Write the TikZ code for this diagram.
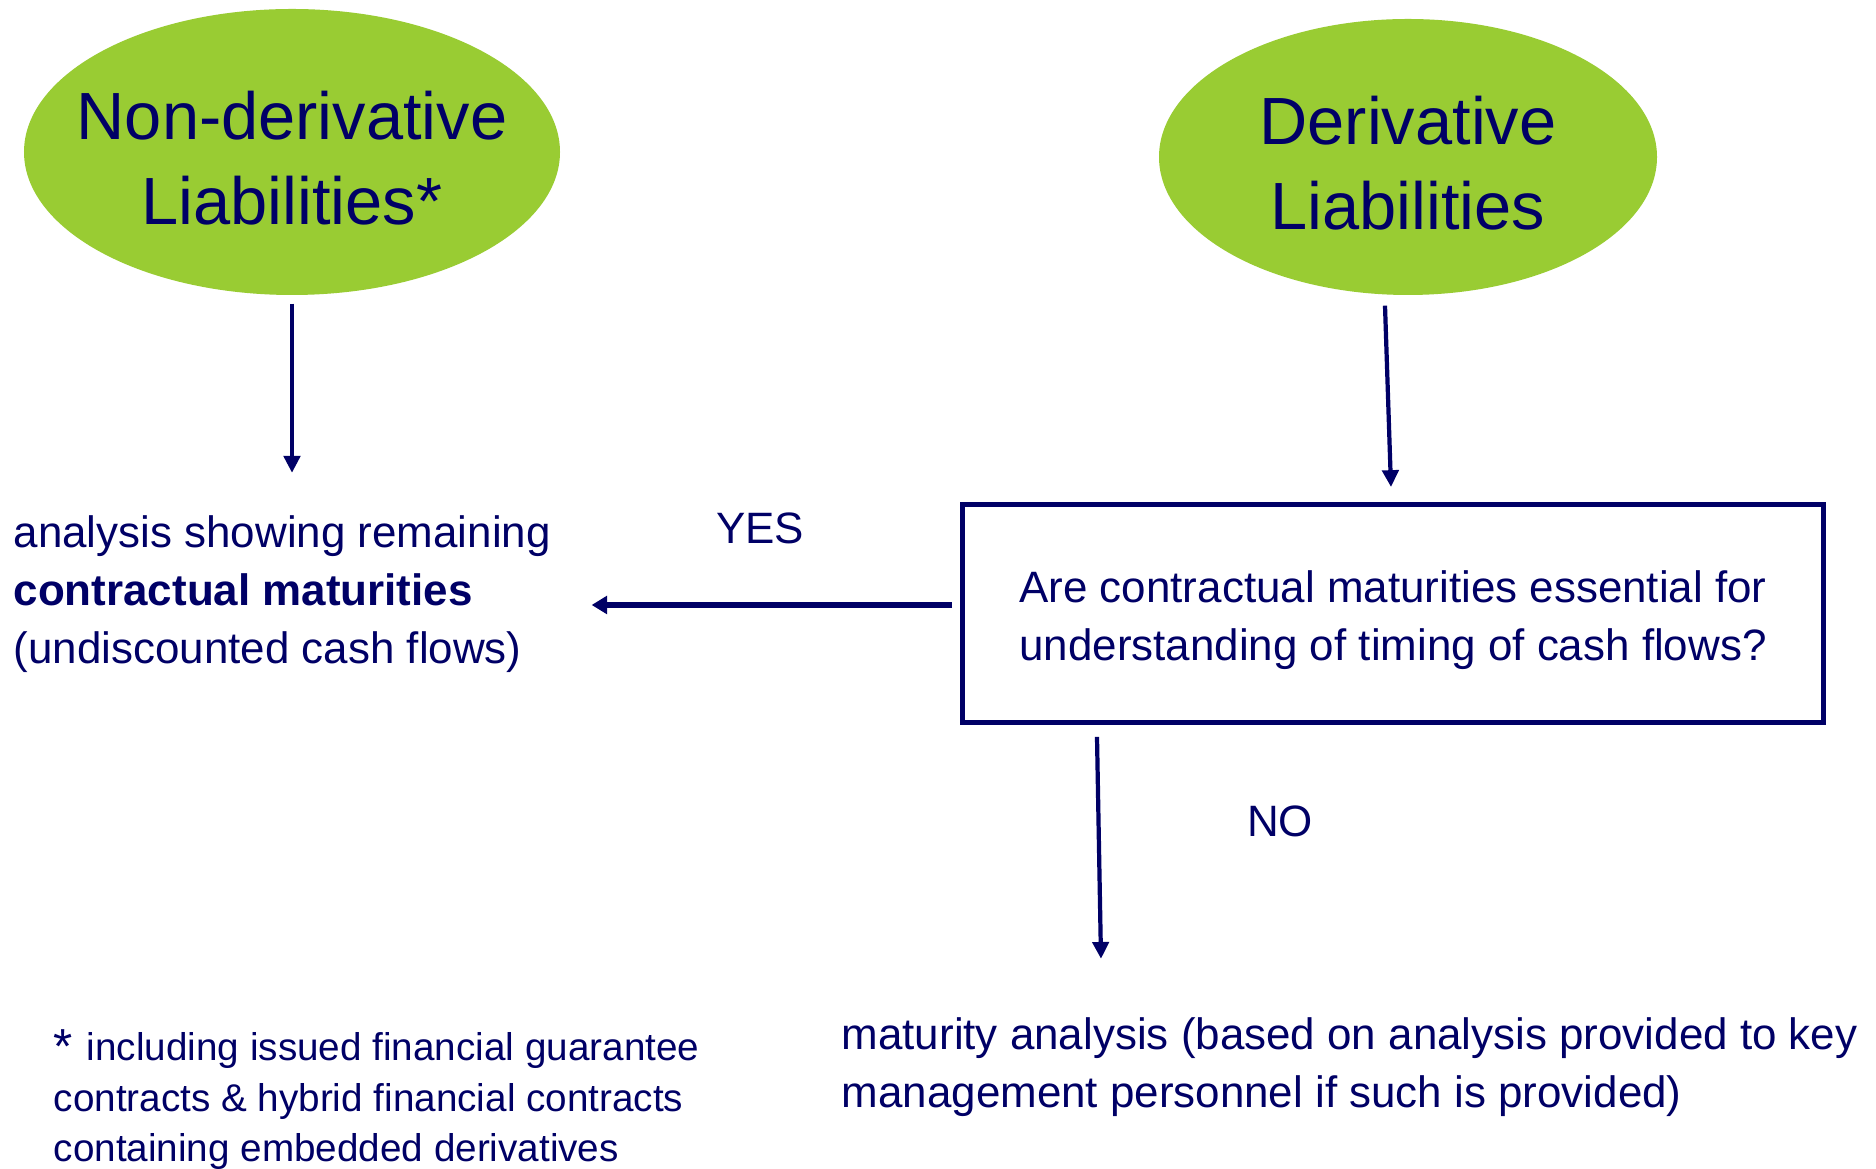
\documentclass[tikz,border=0pt]{standalone}
\usepackage{fontspec}
\setmainfont{Liberation Sans}
\usetikzlibrary{shapes.geometric,arrows.meta,positioning}
\definecolor{Ink}{RGB}{0,0,102}
\definecolor{Lime}{RGB}{153,204,51}
\tikzset{
  lblob/.style={ellipse,fill=Lime,draw=none,inner sep=0pt},
  lhead/.style={text=Ink,align=center,font=\fontsize{19}{24}\selectfont,inner sep=0pt},
  lquest/.style={rectangle,draw=Ink,line width=1.4pt,
                 minimum width=8.61cm,minimum height=2.18cm},
  ltext/.style={text=Ink,align=left,font=\fontsize{12.5}{16.5}\selectfont,inner sep=0pt},
  lnote/.style={ltext,font=\fontsize{11}{14.4}\selectfont},
  ledge/.style={-{Triangle[length=4.8pt,width=4.6pt]},Ink,line width=1.2pt},
  lyes/.style={ledge,line width=1.8pt,-{Triangle[length=4.4pt,width=5pt]}},
}

\begin{document}
\begin{tikzpicture}
  \useasboundingbox (0,0) rectangle (18.76,11.69);
  \fill[white] (0,0) rectangle (18.76,11.69);

  % the two kinds of liabilities
  \node[lblob,minimum width=5.36cm,minimum height=2.86cm] (nonderiv) at (2.92,10.17) {};
  \node[lhead] (nonderivtxt) at ([yshift=-0.06cm]nonderiv.center) {Non-derivative\\Liabilities*};
  \node[lblob,minimum width=4.98cm,minimum height=2.76cm] (deriv) at (14.08,10.12) {};
  \node[lhead] (derivtxt) at ([yshift=-0.06cm]deriv.center) {Derivative\\Liabilities};

  % question and outcomes
  \node[lquest] (question) at (13.93,5.555) {};
  \node[ltext,align=center] (questiontxt) at ([yshift=-0.07cm]question.center)
    {Are contractual maturities essential for\\ understanding of timing of cash flows?};
  \node[ltext,anchor=west] (contr) at (0.13,5.75)
    {analysis showing remaining\\\textbf{contractual maturities}\\(undiscounted cash flows)};
  \node[ltext,anchor=west] (matan) at (8.41,1.02)
    {maturity analysis (based on analysis provided to key\\management personnel if such is provided)};
  \node[ltext,anchor=base] (yes) at (7.60,6.25) {YES};
  \node[ltext,anchor=base] (no) at (12.80,3.32) {NO};

  % footnote
  \node[lnote,anchor=west] (note) at (0.53,0.695)
    {\raisebox{-0.8pt}{\fontsize{14}{14}\selectfont *}\hspace{4pt}including issued financial guarantee\\
     contracts \& hybrid financial contracts\\containing embedded derivatives};

  % arrows
  \draw[ledge,shorten <=0.08cm,shorten >=0.42cm] (nonderiv.south) -- (nonderiv.south |- contr.north);
  \draw[ledge] ([shift={(-0.23,-0.1)}]deriv.south) -- ([shift={(-0.02,0.15)}]question.north);
  \coordinate (yesstart) at ([shift={(-0.08,0.085)}]question.west);
  \draw[lyes,shorten >=0.4cm] (yesstart) -- (yesstart -| contr.east);
  \draw[ledge] ([shift={(-2.96,-0.12)}]question.south) -- ([shift={(2.60,0.58)}]matan.north west);
\end{tikzpicture}
\end{document}
